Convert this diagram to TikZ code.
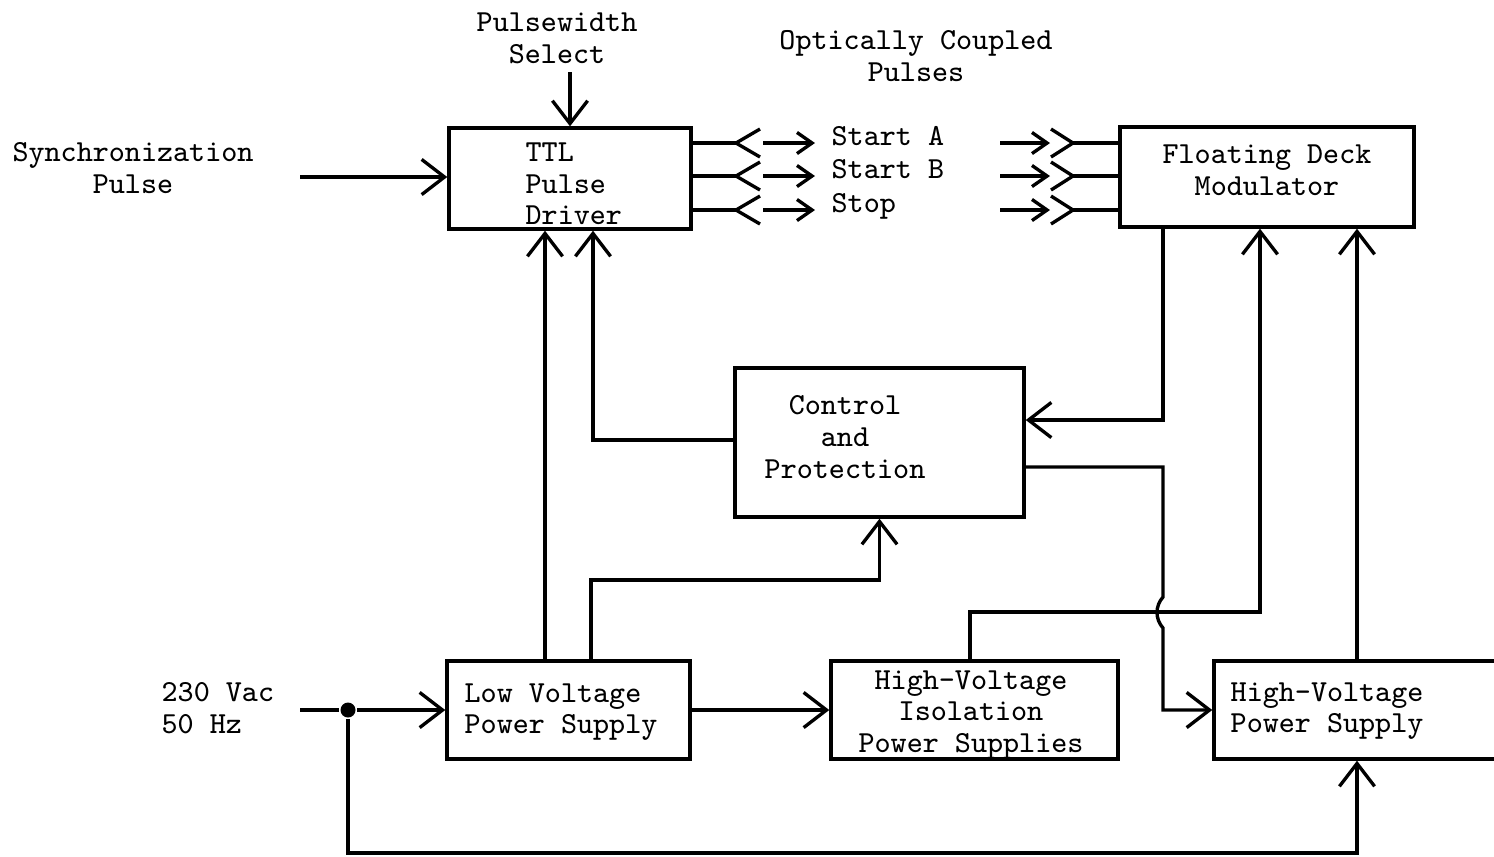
\documentclass[tikz,border=0pt]{standalone}
\usetikzlibrary{arrows.meta}
\tikzset{
  blk/.style={draw,inner sep=0pt},
  lbl/.style={font=\ttfamily\fontsize{8.7}{9}\selectfont,inner sep=0pt,align=center},
  arr/.style={-{Straight Barb[length=6.5pt,width=10pt]}},
  sarr/.style={-{Straight Barb[length=4.3pt,width=6pt]}},
  dot/.style={circle,fill,inner sep=0pt,minimum size=0.15cm}
}
\begin{document}
\begin{tikzpicture}[x=0.01cm,y=-0.01cm,line width=0.95pt]
    \useasboundingbox (0,0) rectangle (1494,856);
    % Blocks
    \node[blk,minimum width=2.42cm,minimum height=1.01cm] (ttl) at (570,178.5) {};
    \node[blk,minimum width=2.94cm,minimum height=1.00cm] (fdm) at (1267,177) {};
    \node[blk,minimum width=2.89cm,minimum height=1.49cm] (ctl) at (879.5,442.5) {};
    \node[blk,minimum width=2.43cm,minimum height=0.98cm] (lvps) at (568.5,710) {};
    \node[blk,minimum width=2.87cm,minimum height=0.98cm] (hvis) at (974.5,710) {};
    \node[blk,minimum width=2.86cm,minimum height=0.98cm] (hvps) at (1357,710) {};
    % Block texts
    \node[lbl,anchor=west,align=left] (ttltxt) at (524,184) {TTL\\Pulse\\Driver};
    \node[lbl] (fdmtxt) at (1267,170) {Floating Deck\\Modulator};
    \node[lbl] (ctltxt) at (845,437) {Control\\and\\Protection};
    \node[lbl,anchor=west,align=left] (lvtxt) at (463,712) {Low Voltage\\Power Supply};
    \node[lbl] (hvistxt) at (971,715) {High-Voltage\\Isolation\\Power Supplies};
    \node[lbl,anchor=west,align=left] (hvtxt) at (1229,711) {High-Voltage\\Power Supply};
    % Outside labels
    \node[lbl] (synctxt) at (133,168) {Synchronization\\Pulse};
    \node[lbl] (pwtxt) at (557,38) {Pulsewidth\\Select};
    \node[lbl] (opttxt) at (916,56) {Optically Coupled\\Pulses};
    \node[lbl,anchor=west,align=left] (actxt) at (160,708) {230 Vac\\50 Hz};
    % Optical links
    \foreach \y/\n/\t in {143/a/Start A,176/b/Start B,210/s/Stop}{
        \coordinate (tx\n) at (736,\y);
        \coordinate (rx\n) at (1073,\y);
        \draw (ttl.east |- tx\n) -- (tx\n);
        \draw (tx\n) ++(24,-14) -- (tx\n) -- ++(24,14);
        \draw[sarr] (763,\y) -- (815,\y);
        \node[lbl,anchor=base west] (out\n) at (830,\y+2) {\t};
        \draw[sarr] (1000,\y) -- (1050,\y);
        \draw (rx\n) ++(-22,-14) -- (rx\n) -- ++(-22,14);
        \draw (rx\n) -- (rx\n -| fdm.west);
    }
    % Inputs
    \coordinate (syncin) at (300,177);
    \draw[arr] (syncin) -- (syncin -| ttl.west);
    \coordinate (pwin) at (570,72);
    \draw[arr] (pwin) -- (pwin |- ttl.north);
    \coordinate (acin) at (300,710);
    \node[dot] (tap) at (348,710) {};
    \draw (acin) -- (tap);
    \draw[arr] (tap) -- (lvps.west);
    \draw[arr] (tap) |- (hvps.south |- 0,853) -- (hvps.south);
    % Low voltage supply
    \draw[arr] (lvps.north -| 545,0) -- (ttl.south -| 545,0);
    \draw[arr] (lvps.north -| 591,0) -- (591,580) -| (ctl.south);
    \draw[arr] (lvps.east) -- (hvis.west);
    % Control and protection
    \draw[arr] (ctl.west |- 0,440) -| (ttl.south -| 593,0);
    \draw[arr] (fdm.south -| 1163,0) |- (ctl.east |- 0,420);
    \draw[arr] (ctl.east |- 0,467) -| (1163,597) .. controls (1155,606) and (1155,619) .. (1163,628) |- (hvps.west);
    % High voltage supplies
    \draw[arr] (hvis.north -| 970,0) -- (970,612) -| (fdm.south -| 1260,0);
    \draw[arr] (hvps.north) -- (hvps.north |- fdm.south);
\end{tikzpicture}
\end{document}
